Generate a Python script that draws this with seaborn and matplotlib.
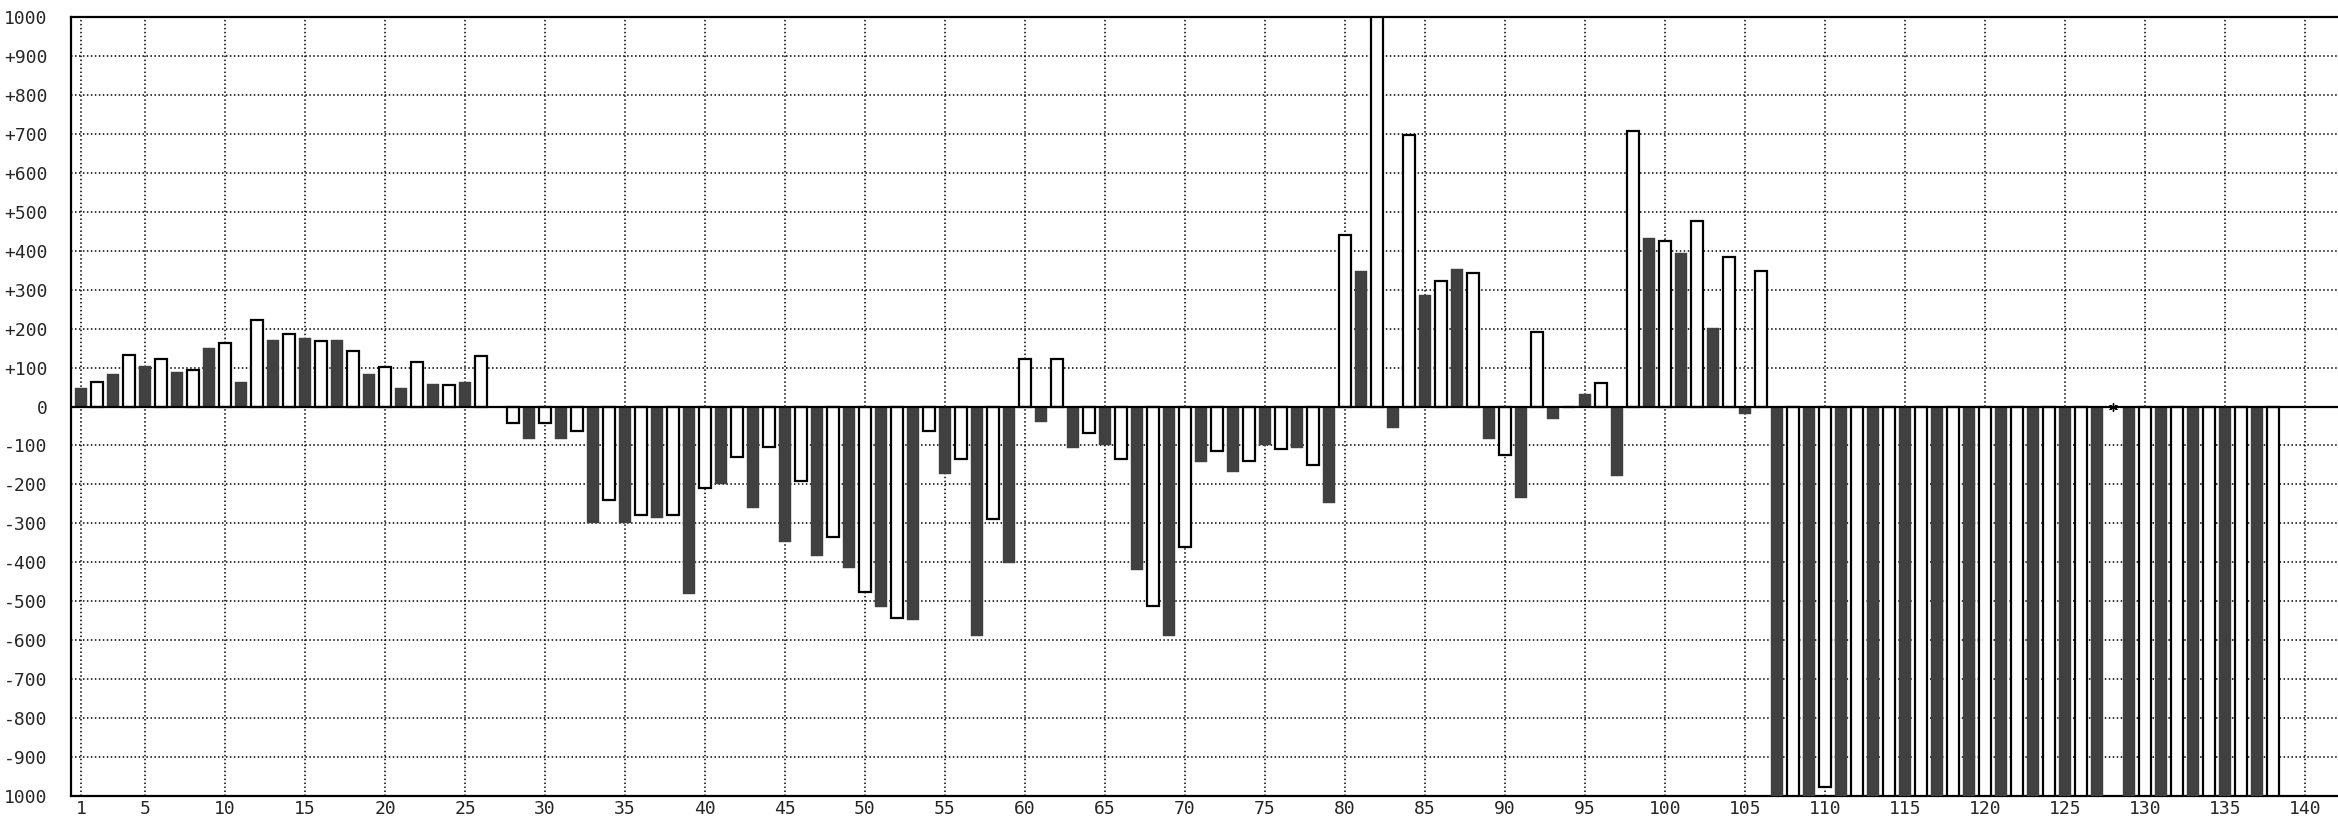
import numpy as np
import pandas as pd
import matplotlib
matplotlib.use('Agg')
import matplotlib.pyplot as plt
import seaborn as sns

# bar values, positions 1..138 (128 has no bar, only a marker)
values = [
    47, 62, 83, 133, 103, 123, 88, 94, 150, 164,
    63, 221, 170, 185, 176, 169, 170, 143, 83, 102,
    47, 113, 58, 56, 63, 129, 0, -43, -84, -43,
    -84, -64, -298, -239, -298, -279, -287, -279, -481, -208,
    -200, -130, -260, -105, -347, -192, -383, -334, -414, -475,
    -516, -542, -547, -63, -173, -135, -588, -290, -403, 122,
    -39, 122, -106, -68, -98, -135, -420, -511, -588, -361,
    -142, -114, -168, -141, -98, -109, -106, -149, -249, 440,
    349, 1000, -54, 697, 287, 322, 354, 343, -84, -125,
    -236, 190, -32, 0, 31, 60, -178, 708, 432, 425,
    395, 476, 201, 383, -19, 349, -1000, -1000, -1000, -976,
    -1000, -1000, -1000, -1000, -1000, -1000, -1000, -1000, -1000, -1000,
    -1000, -1000, -1000, -1000, -1000, -1000, -1000, np.nan, -1000, -1000,
    -1000, -1000, -1000, -1000, -1000, -1000, -1000, -1000,
]
positions = list(range(1, len(values) + 1))
marked = [128]

y_ticks = list(range(-1000, 1001, 100))
y_labels = ['1000' if abs(v) == 1000 else ('0' if v == 0 else f'{v:+d}') for v in y_ticks]
x_ticks = [1] + list(range(5, 141, 5))

DARK = '#404040'

df = pd.DataFrame({'pos': positions, 'value': values})
df['kind'] = np.where(df['pos'] % 2 == 1, 'dark', 'light')
df = df.dropna()

sns.set_style('white')
plt.rcParams['font.family'] = ['DejaVu Sans Mono']

fig = plt.figure(figsize=(23.38, 8.18), dpi=100)
ax = fig.add_axes([71 / 2338, 22 / 818, (2338 - 71) / 2338, 779 / 818])

sns.barplot(data=df, x='pos', y='value', hue='kind', native_scale=True,
            palette={'dark': DARK, 'light': 'white'}, width=0.75,
            dodge=False, legend=False, saturation=1, ax=ax, zorder=3)

# white bars get a black outline, dark bars stay flat
for p in ax.patches:
    fc = p.get_facecolor()
    if fc[0] > 0.9:
        p.set_edgecolor('black')
        p.set_linewidth(1.6)
    else:
        p.set_edgecolor(DARK)
        p.set_linewidth(0.3)

ax.scatter(marked, [0] * len(marked), marker=(6, 2, 0), s=30, color='black',
           linewidths=1, zorder=5)

ax.axhline(0, color='black', lw=1.6, zorder=4)

ax.set_xlim(0.375, 142.06)
ax.set_ylim(-1000, 1000)
ax.set_yticks(y_ticks)
ax.set_yticklabels(y_labels)
ax.set_xticks(x_ticks)
ax.set_xticklabels([str(t) for t in x_ticks])
ax.set_xlabel('')
ax.set_ylabel('')

ax.grid(True, color='black', linestyle=(0, (1, 1.6)), linewidth=1.1, zorder=0)
ax.set_axisbelow(True)
ax.tick_params(axis='y', length=0, pad=17, labelsize=13)
ax.tick_params(axis='x', length=0, pad=3, labelsize=13)

for side in ['left', 'top', 'bottom']:
    ax.spines[side].set_color('black')
    ax.spines[side].set_linewidth(1.6)
ax.spines['right'].set_visible(False)

fig.savefig('out.png', dpi=100)
